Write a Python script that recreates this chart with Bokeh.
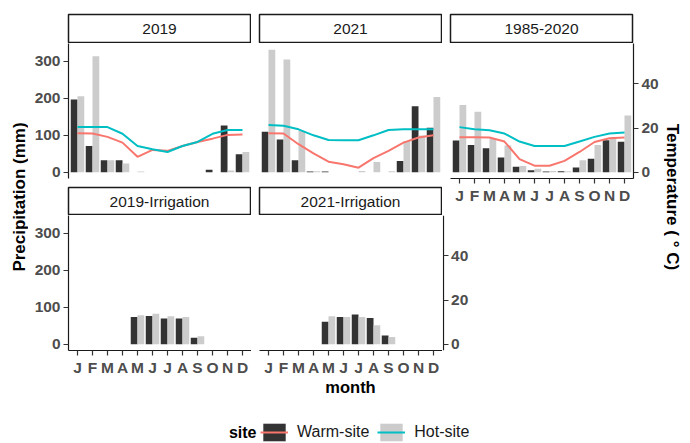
import math
from bokeh.plotting import figure
from bokeh.models import (Range1d, LinearAxis, FixedTicker, Label, Legend,
                          LegendItem, ColumnDataSource)
from bokeh.transform import dodge
from bokeh.layouts import row, column
from bokeh.embed import file_html
from bokeh.resources import INLINE

# ---------------- data ----------------
month_num = list(range(1, 13))
month_labels = ["J", "F", "M", "A", "M", "J", "J", "A", "S", "O", "N", "D"]
sites = ["Warm-site", "Hot-site"]

# precipitation (mm)
prec_2019_warm = [197, 71, 33, 33, 0, 0, 0, 0, 0, 7, 127, 49]
prec_2019_hot = [206, 314, 33, 24, 2, 0, 0, 0, 0, 0, 5, 55]
prec_2021_warm = [110, 89, 33, 2, 2, 0, 0, 0, 0, 31, 179, 121]
prec_2021_hot = [332, 305, 112, 3, 0, 0, 4, 28, 3, 85, 100, 204]
prec_clim_warm = [86, 74, 65, 40, 15, 6, 2, 3, 13, 37, 87, 83]
prec_clim_hot = [182, 164, 91, 73, 17, 10, 4, 3, 33, 74, 94, 154]
irr_2019_warm = [0, 0, 0, 0, 74, 77, 70, 70, 18, 0, 0, 0]
irr_2019_hot = [0, 0, 0, 0, 79, 83, 76, 74, 22, 0, 0, 0]
irr_2021_warm = [0, 0, 0, 0, 61, 74, 81, 71, 24, 0, 0, 0]
irr_2021_hot = [0, 0, 0, 0, 76, 74, 74, 52, 20, 0, 0, 0]

# temperature (deg C)
temp_2019_warm = [17.6, 17.5, 16.0, 13.4, 7.0, 10.1, 9.7, 11.9, 13.7, 15.2, 16.9, 17.1]
temp_2019_hot = [20.4, 20.4, 20.4, 17.4, 11.9, 10.4, 9.2, 11.9, 13.7, 17.4, 19.1, 19.1]
temp_2021_warm = [17.6, 17.5, 12.7, 8.6, 4.8, 3.7, 2.1, 6.4, 9.7, 13.4, 15.7, 16.7]
temp_2021_hot = [21.3, 21.0, 19.4, 16.7, 14.6, 14.5, 14.5, 16.7, 19.1, 19.4, 19.4, 19.4]
temp_clim_warm = [15.8, 15.8, 15.7, 13.9, 6.0, 3.0, 3.0, 5.2, 9.2, 13.7, 15.4, 15.7]
temp_clim_hot = [20.4, 19.4, 19.0, 17.5, 13.9, 11.9, 11.9, 11.9, 13.9, 16.0, 17.5, 18.0]

strip_labels = ["2019", "2021", "1985-2020", "2019-Irrigation", "2021-Irrigation"]
prec_ticks = [0, 100, 200, 300]
temp_ticks = [0, 20, 40]

# ---------------- style ----------------
DARK = "#333333"
LIGHT = "#CCCCCC"
RED = "#F8766D"
CYAN = "#00BFC4"
FONT = "Liberation Sans"
SEC = 6.0
Y_LO, Y_HI = -16.6, 348.6
FW, FH = 183, 135


def base_fig(fw, fh, ml, mr, mt, mb, xr=None, yr=None):
    p = figure(frame_width=fw, frame_height=fh,
               x_range=xr if xr is not None else Range1d(0.4, 12.6),
               y_range=yr if yr is not None else Range1d(Y_LO, Y_HI),
               x_axis_location=None, y_axis_location=None,
               toolbar_location=None, output_backend="svg",
               min_border=0,
               min_border_left=ml, min_border_right=mr,
               min_border_top=mt, min_border_bottom=mb)
    p.grid.visible = False
    p.outline_line_color = None
    p.background_fill_color = "white"
    p.border_fill_color = "white"
    return p


def style_axis(ax, ticks, overrides=None):
    ax.ticker = FixedTicker(ticks=ticks)
    ax.axis_line_color = "#1A1A1A"
    ax.axis_line_width = 1.2
    ax.major_tick_line_color = "#333333"
    ax.major_tick_line_width = 1.2
    ax.major_tick_out = 5
    ax.major_tick_in = 0
    ax.minor_tick_line_color = None
    ax.major_label_standoff = 3
    ax.major_label_text_font = FONT
    ax.major_label_text_font_style = "bold"
    ax.major_label_text_font_size = "15.5px"
    ax.major_label_text_color = "#4D4D4D"
    if overrides is not None:
        ax.major_label_overrides = overrides


def strip(text, ml, mr, mt, fh):
    s = base_fig(FW - 1, fh, ml, mr + 1, mt, 1,
                 xr=Range1d(0, 1), yr=Range1d(0, 1))
    s.outline_line_color = "#1A1A1A"
    s.outline_line_width = 1.5
    s.add_layout(Label(x=0.5, y=0.5, text=text, text_align="center",
                       text_baseline="middle", text_font=FONT,
                       text_font_size="15.5px", text_color="#1A1A1A"))
    return s


def panel(pw, ph, tw, th, ml, mr, mt, mb, left=False, below=False, right=False):
    p = base_fig(FW, FH, ml, mr, mt, mb)
    p.extra_y_ranges = {"temp": Range1d(Y_LO / SEC, Y_HI / SEC)}
    src = ColumnDataSource(dict(m=month_num, pw=pw, ph=ph))
    p.vbar(x=dodge("m", -0.225), top="pw", bottom=0, width=0.45, source=src,
           fill_color=DARK, line_color=None)
    p.vbar(x=dodge("m", 0.225), top="ph", bottom=0, width=0.45, source=src,
           fill_color=LIGHT, line_color=None)
    if tw is not None:
        tsrc = ColumnDataSource(dict(m=month_num, tw=tw, th=th))
        p.line(x="m", y="tw", source=tsrc, y_range_name="temp",
               line_color=RED, line_width=2)
        p.line(x="m", y="th", source=tsrc, y_range_name="temp",
               line_color=CYAN, line_width=2)
    if left:
        ax = LinearAxis()
        style_axis(ax, prec_ticks)
        p.add_layout(ax, "left")
    if below:
        ax = LinearAxis()
        style_axis(ax, month_num, {m: l for m, l in zip(month_num, month_labels)})
        p.add_layout(ax, "below")
    if right:
        ax = LinearAxis(y_range_name="temp")
        style_axis(ax, temp_ticks)
        p.add_layout(ax, "right")
    return p


TOP = 14  # space above the first row of strips

# ---------------- column A ----------------
sA1 = strip(strip_labels[0], 40, 0, TOP, 28)
pA1 = panel(prec_2019_warm, prec_2019_hot, temp_2019_warm, temp_2019_hot,
            40, 0, 0, 8, left=True)
sA2 = strip(strip_labels[3], 40, 0, 1, 27)
pA2 = panel(irr_2019_warm, irr_2019_hot, None, None, 40, 0, 0, 28,
            left=True, below=True)
colA = column(sA1, pA1, sA2, pA2)

# ---------------- column B ----------------
sB1 = strip(strip_labels[1], 8, 0, TOP, 28)
pB1 = panel(prec_2021_warm, prec_2021_hot, temp_2021_warm, temp_2021_hot,
            8, 0, 0, 8)
sB2 = strip(strip_labels[4], 8, 0, 1, 27)
pB2 = panel(irr_2021_warm, irr_2021_hot, None, None, 8, 0, 0, 28, below=True)
colB = column(sB1, pB1, sB2, pB2)

# ---------------- column C ----------------
sC1 = strip(strip_labels[2], 8, 30, TOP, 28)
pC1 = panel(prec_clim_warm, prec_clim_hot, temp_clim_warm, temp_clim_hot,
            8, 30, 0, 28, below=True, right=True)
# temperature axis of the second row, drawn at the left edge of this frame
# (= right edge of the 2021-Irrigation panel)
pC2 = base_fig(48, FH, 0, 0, 9, 28, xr=Range1d(0, 48))
pC2.extra_y_ranges = {"temp": Range1d(Y_LO / SEC, Y_HI / SEC)}
axC2 = LinearAxis(y_range_name="temp", fixed_location=0.6)
style_axis(axC2, temp_ticks)
pC2.add_layout(axC2, "right")
colC = column(column(sC1, pC1), row(pC2))

# ---------------- axis titles ----------------
TOP_H = TOP + 29 + 143 + 29 + 163
left_t = base_fig(28, TOP_H, 0, 0, 0, 0, xr=Range1d(0, 28), yr=Range1d(0, TOP_H))
left_t.add_layout(Label(x=18.5, y=TOP_H - 196.5, text="Precipitation (mm)",
                        angle=math.pi / 2, text_align="center",
                        text_baseline="middle", text_font=FONT,
                        text_font_style="bold", text_font_size="17px",
                        text_color="black"))
right_t = base_fig(25, TOP_H, 0, 0, 0, 0, xr=Range1d(0, 25), yr=Range1d(0, TOP_H))
right_t.add_layout(Label(x=8.5, y=TOP_H - 196.5, text="Temperature ( \u00b0 C)",
                         angle=-math.pi / 2, text_align="center",
                         text_baseline="middle", text_font=FONT,
                         text_font_style="bold", text_font_size="17px",
                         text_color="black"))

# ---------------- bottom: x title + legend ----------------
BW, BH = 688, 442 - TOP_H
bot = base_fig(BW, BH, 0, 0, 0, 0, xr=Range1d(0, BW), yr=Range1d(0, BH))
bot.add_layout(Label(x=350, y=442 - 386, text="month", text_align="center",
                     text_baseline="middle", text_font=FONT,
                     text_font_style="bold", text_font_size="16.5px",
                     text_color="black"))
bot.add_layout(Label(x=256, y=442 - 432, text="site", text_align="right",
                     text_baseline="middle", text_font=FONT,
                     text_font_style="bold", text_font_size="16px",
                     text_color="black"))
# legend proxies (kept outside the visible range)
proxy = ColumnDataSource(dict(x=[-100, -90], top=[-100, -100], y=[-100, -100]))
lb_w = bot.vbar(x="x", top="top", bottom=-110, width=1, source=proxy,
                fill_color=DARK, line_color=None)
ll_w = bot.line(x="x", y="y", source=proxy, line_color=RED, line_width=2)
lb_h = bot.vbar(x="x", top="top", bottom=-110, width=1, source=proxy,
                fill_color=LIGHT, line_color=None)
ll_h = bot.line(x="x", y="y", source=proxy, line_color=CYAN, line_width=2)
legend = Legend(items=[LegendItem(label=sites[0], renderers=[lb_w, ll_w]),
                       LegendItem(label=sites[1], renderers=[lb_h, ll_h])],
                location=(260, -1), orientation="horizontal",
                glyph_width=28, glyph_height=22, label_standoff=9, spacing=8,
                padding=0, margin=0, border_line_color=None,
                background_fill_alpha=0, label_text_font=FONT,
                label_text_font_size="16px", label_text_color="#1A1A1A",
                label_height=22)
bot.add_layout(legend, "center")

top_row = row(left_t, colA, colB, colC, right_t)
root = column(top_row, bot)

open("out.html", "w").write(file_html(root, INLINE))
